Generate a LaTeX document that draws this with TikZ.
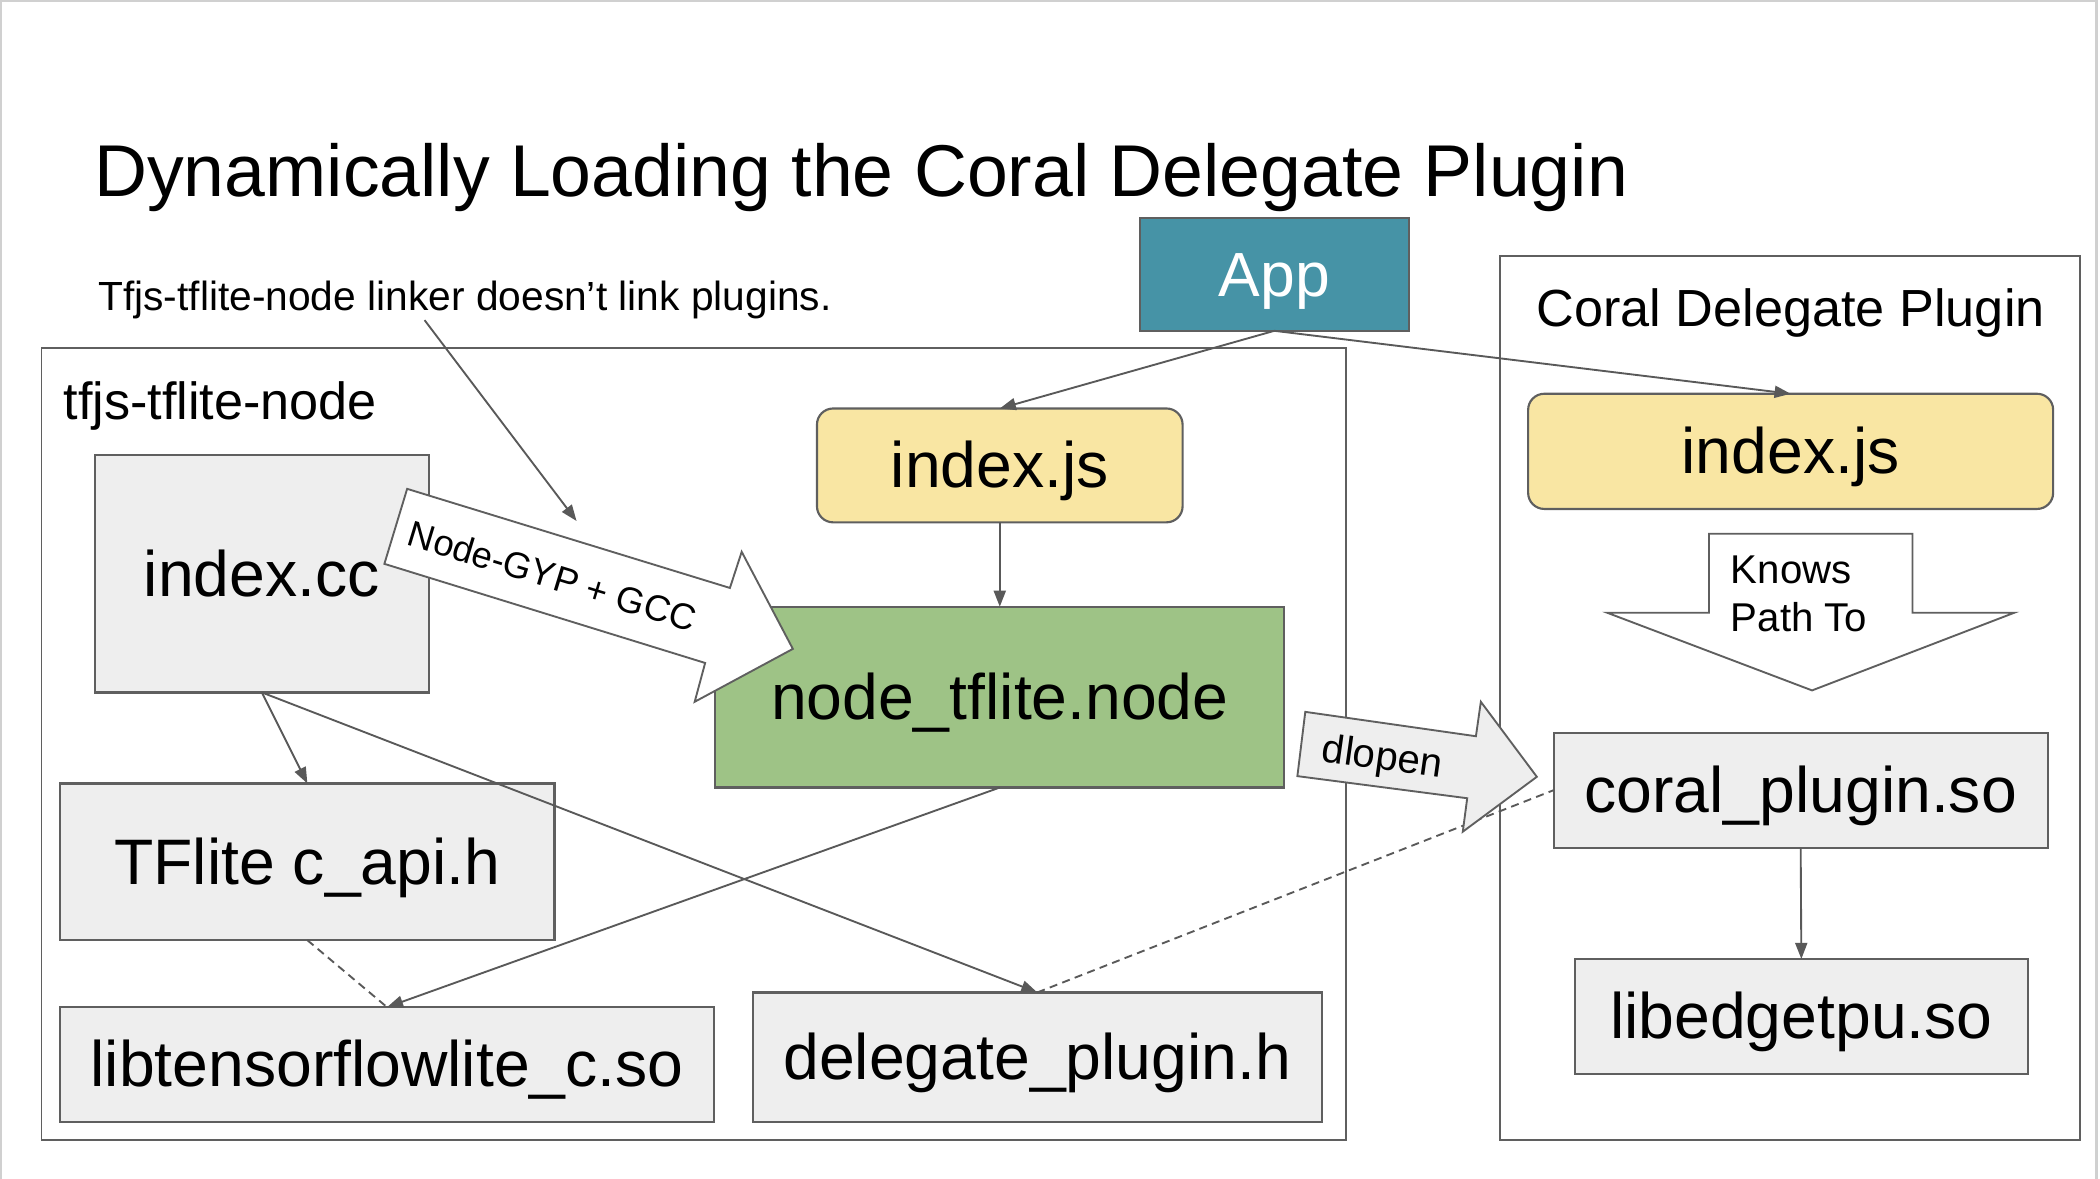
\documentclass[tikz,border=0pt]{standalone}
\usepackage{fontspec}
\setmainfont{Liberation Sans}
\usetikzlibrary{arrows.meta}
\definecolor{appteal}{HTML}{4693A6}
\definecolor{jsyellow}{HTML}{F9E6A3}
\definecolor{nodegreen}{HTML}{9EC386}
\definecolor{boxgrey}{HTML}{EEEEEE}
\definecolor{edgegrey}{HTML}{5F5F5F}
\definecolor{linegrey}{HTML}{595959}
\definecolor{slidegrey}{HTML}{D0D0D0}
\begin{document}
\begin{tikzpicture}[x=0.5pt,y=-0.5pt,
  box/.style={draw=edgegrey, line width=0.8pt, inner sep=0pt, outer sep=0pt, font=\fontsize{24}{28}\selectfont, text height=21.7pt, text depth=5.1pt},
  greybox/.style={box, fill=boxgrey},
  jsbox/.style={box, fill=jsyellow, rounded corners=6pt},
  container/.style={draw=edgegrey, line width=0.7pt},
  conn/.style={draw=linegrey, line width=0.7pt, -{Triangle[length=6pt,width=4.5pt]}},
  dashconn/.style={draw=linegrey, line width=0.7pt, dash pattern=on 3pt off 2pt},
  blockarrow/.style={draw=edgegrey, line width=0.7pt, line join=miter},
  lbl/.style={inner sep=0pt, anchor=base west},
]
\useasboundingbox (0,0) rectangle (1568,879.6);
\draw[slidegrey, line width=0.9pt] (0.8,0.8) rectangle (1565.3,890);

% titles
\node[lbl, font=\fontsize{27.4}{32}\selectfont] (title) at (70,147) {Dynamically Loading the Coral Delegate Plugin};
\node[lbl, font=\fontsize{15.2}{18}\selectfont] (note) at (73,231.5) {Tfjs-tflite-node linker doesn’t link plugins.};

% containers
\draw[container] (31,260) rectangle (1005,851);
\draw[container] (1120,191) rectangle (1553,851);
\node[lbl, font=\fontsize{19.5}{23}\selectfont] (lcontlbl) at (47,313) {tfjs-tflite-node};
\node[lbl, font=\fontsize{19.5}{23}\selectfont] (rcontlbl) at (1147,244) {Coral Delegate Plugin};

% boxes
\node[box, fill=appteal, text=white, minimum width=100.5pt, minimum height=42pt, font=\fontsize{23.3}{28}\selectfont, text height=21.1pt, text depth=4.9pt] (app) at (951.5,205) {App};
\node[greybox, minimum width=124.5pt, minimum height=88.5pt] (indexcc) at (195.5,428.5) {index.cc};
\node[jsbox, minimum width=136.5pt, minimum height=42.5pt] (ljs) at (746.5,347.5) {index.js};
\node[box, fill=nodegreen, minimum width=212.5pt, minimum height=67.5pt] (ntn) at (746.5,520.5) {node\_tflite.node};
\node[greybox, minimum width=184.5pt, minimum height=58.5pt] (tfl) at (229.5,643.5) {TFlite c\_api.h};
\node[greybox, minimum width=244pt, minimum height=43pt] (libtf) at (289,795) {libtensorflowlite\_c.so};
\node[greybox, minimum width=212.5pt, minimum height=48.5pt] (dph) at (774.5,789.5) {delegate\_plugin.h};
\node[jsbox, minimum width=196pt, minimum height=43pt] (rjs) at (1337,337) {index.js};
\node[greybox, minimum width=184.5pt, minimum height=43pt] (cps) at (1344.5,590) {coral\_plugin.so};
\node[greybox, minimum width=169pt, minimum height=43pt] (edge) at (1345,759) {libedgetpu.so};

% connectors
\draw[conn] (app.south) -- (ljs.north);
\draw[conn] (app.south) -- (rjs.north);
\draw[conn] (ljs.south) -- (ntn.north);
\draw[conn] (indexcc.south) -- (tfl.north);
\draw[conn] (indexcc.south) -- (dph.north);
\draw[conn] (ntn.south) -- (libtf.north);
\draw[dashconn] (tfl.south) -- (libtf.north);
\draw[dashconn] (dph.north) -- (cps.west);
\draw[conn] (cps.south) -- (edge.north);
\coordinate (noteA) at (317,239);
\coordinate (noteB) at (430.5,389);
\draw[conn] (noteA) -- (noteB);

% block arrows
\draw[blockarrow, fill=white] (304,365) -- (545,439) -- (553.8,412) -- (592,484.5) -- (518.7,524) -- (526.5,495) -- (287,421) -- cycle;
\node[rotate=-17, inner sep=0pt, font=\fontsize{13.6}{16}\selectfont] (gyplbl) at (412.5,430) {Node-GYP + GCC};

\draw[blockarrow, fill=boxgrey] (974.6,531.5) -- (1102,549.7) -- (1105.7,524) -- (1147.5,580) -- (1092.2,621) -- (1095.5,596) -- (968.7,579.5) -- cycle;
\node[rotate=-8, inner sep=0pt, font=\fontsize{15}{18}\selectfont] (dllbl) at (1032,567) {dlopen};

\draw[blockarrow, fill=white] (1276,398.5) -- (1428,398.5) -- (1428,457.5) -- (1504,457.5) -- (1353,515.5) -- (1200,457.5) -- (1276,457.5) -- cycle;
\node[lbl, font=\fontsize{15}{18}\selectfont] (knows1) at (1292,436) {Knows};
\node[lbl, font=\fontsize{15}{18}\selectfont] (knows2) at (1292,471.5) {Path To};
\end{tikzpicture}
\end{document}
